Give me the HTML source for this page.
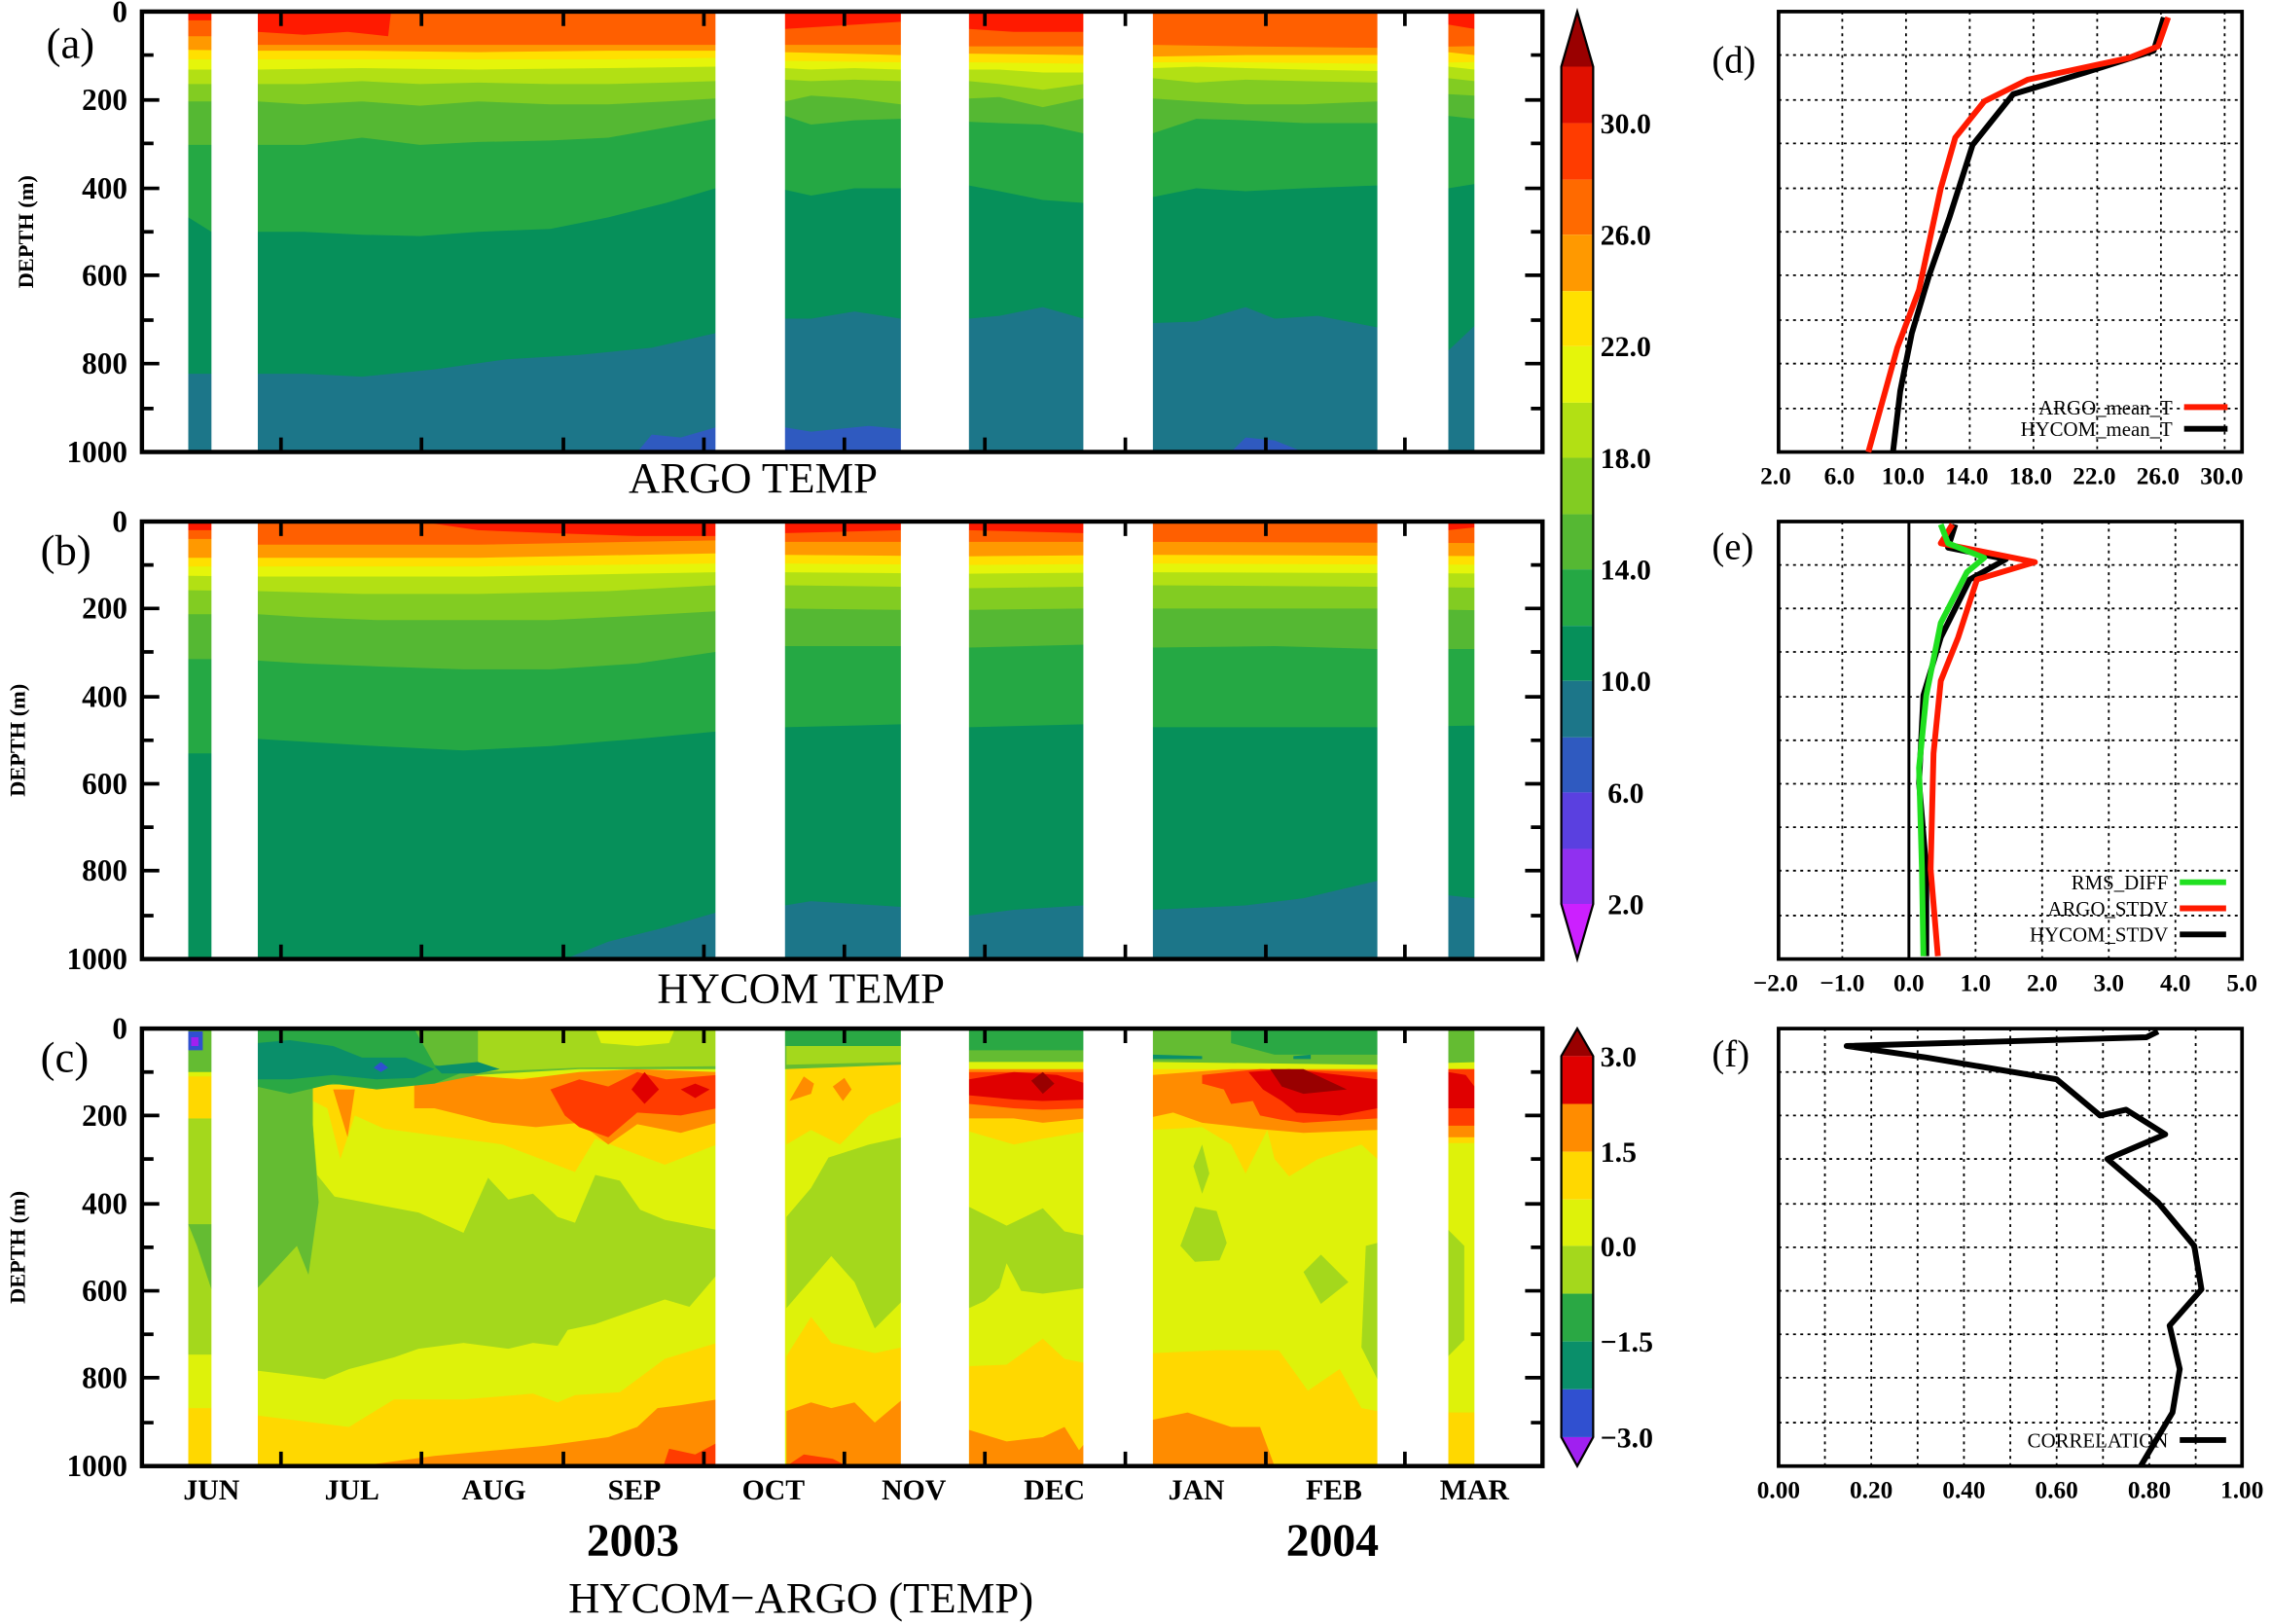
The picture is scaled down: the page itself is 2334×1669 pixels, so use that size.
<!DOCTYPE html>
<html><head><meta charset="utf-8"><style>html,body{margin:0;padding:0;background:#fff}svg{display:block}</style></head><body>
<svg width="2334" height="1669" viewBox="0 0 1568 1121" preserveAspectRatio="none" xmlns="http://www.w3.org/2000/svg" font-family="Liberation Serif, serif">
<defs>
<clipPath id="ca"><rect x="98" y="8" width="967" height="304"/></clipPath>
<clipPath id="cb"><rect x="98" y="360" width="967" height="302"/></clipPath>
<clipPath id="cc"><rect x="98" y="710" width="967" height="302"/></clipPath>
</defs>
<!-- Panel a -->
<g clip-path="url(#ca)">
<rect x="98" y="8" width="967" height="304" fill="#1c7689"/>
<polygon fill="#2f5ac0" points="98,312 440,312 450,300 470,302 494,295 542,295 560,298 600,294 622,296 660,312 850,312 860,302 880,304 900,312 1065,312"/>
<polygon fill="#1c7689" points="98,312 98,300 130,300 146,312 1065,312"/>
<polygon fill="#06905a" points="98,8 1065,8 1065,220 1018,225 1000,242 951,226 910,218 880,220 860,212 826,222 796,223 770,215 748,220 720,212 690,218 669,220 622,220 590,215 560,220 542,220 494,230 450,240 400,245 350,248 300,255 250,260 210,258 178,258 146,258 130,258 98,258"/>
<polygon fill="#25a844" points="98,8 1065,8 1065,125 1018,127 1000,130 951,128 900,130 860,132 826,130 796,136 760,135 748,140 720,138 690,132 669,128 622,130 590,130 560,135 542,131 494,130 460,140 420,150 380,158 330,160 290,163 250,162 210,160 178,160 146,160 130,150 98,150"/>
<polygon fill="#55b833" points="98,8 1065,8 1065,79 1018,82 1000,80 951,85 900,85 860,83 826,82 796,92 760,97 748,92 720,86 690,85 669,84 622,82 590,83 560,86 542,80 494,82 460,88 420,95 380,97 330,98 290,100 250,95 210,100 178,100 146,100 130,100 98,100"/>
<polygon fill="#82cc22" points="98,8 1065,8 1065,65 1018,66 1000,65 951,70 900,72 860,72 826,70 796,68 760,66 748,68 720,74 690,67 669,68 622,72 590,68 560,66 542,70 494,68 460,70 420,72 380,72 330,70 290,73 250,70 210,72 178,70 146,70 130,70 98,70"/>
<polygon fill="#b2e014" points="98,8 1065,8 1065,55 1018,56 1000,54 951,57 900,56 860,55 826,57 796,54 760,55 748,58 720,62 690,58 669,56 622,56 590,55 560,56 542,55 494,56 460,57 420,58 380,58 330,57 290,58 250,56 210,58 178,58 146,58 130,58 98,58"/>
<polygon fill="#e5f50a" points="98,8 1065,8 1065,47 1018,48 1000,46 951,49 900,48 860,47 826,46 796,47 760,48 748,50 720,50 690,48 669,48 622,48 590,47 560,48 542,47 494,46 420,47 330,48 250,47 178,48 98,48"/>
<polygon fill="#ffe000" points="98,8 1065,8 1065,42 951,44 860,43 796,43 748,44 669,43 622,43 542,42 494,40 420,41 330,41 250,41 178,41 98,41"/>
<polygon fill="#ff9900" points="98,8 1065,8 1065,37 1018,38 1000,36 951,38 900,38 860,38 796,39 760,37 748,38 669,37 622,38 542,36 494,35 420,35 330,36 250,35 178,35 98,34"/>
<polygon fill="#ff5f00" points="98,8 1065,8 1065,31 951,33 860,32 796,31 748,32 669,32 622,31 542,31 494,31 420,31 330,31 250,31 178,31 146,25 98,25"/>
<polygon fill="#ff1a00" points="130,8 146,8 146,14 130,14"/>
<polygon fill="#ff1a00" points="178,8 270,8 268,25 240,22 210,24 178,22"/>
<polygon fill="#ff1a00" points="542,8 622,8 622,15 542,20"/>
<polygon fill="#ff1a00" points="669,8 748,8 748,22 700,22 669,20"/>
<polygon fill="#ff1a00" points="1000,8 1018,8 1018,20 1000,17"/>
</g>
<!-- Panel b -->
<g clip-path="url(#cb)">
<rect x="98" y="360" width="967" height="302" fill="#1c7689"/>
<polygon fill="#06905a" points="98,360 1065,360 1065,620 1018,620 1000,618 951,608 900,620 860,625 796,628 748,625 700,628 669,632 622,626 560,622 542,625 494,630 460,640 420,650 390,662 98,662"/>
<polygon fill="#25a844" points="98,360 1065,360 1065,500 951,502 880,502 796,502 748,500 669,502 622,500 542,502 494,505 440,510 380,515 320,518 260,515 210,512 178,510 146,520 98,520"/>
<polygon fill="#55b833" points="98,360 1065,360 1065,448 951,448 880,446 796,447 748,445 669,447 622,446 542,446 494,450 440,458 380,462 320,462 260,460 210,458 178,456 146,455 98,455"/>
<polygon fill="#82cc22" points="98,360 1065,360 1065,422 951,420 880,420 796,420 748,420 669,421 622,421 542,420 494,422 440,425 380,428 320,428 260,428 210,426 178,424 98,424"/>
<polygon fill="#b2e014" points="98,360 1065,360 1065,406 951,405 796,404 748,405 669,406 622,405 542,404 494,404 420,408 330,410 250,410 178,408 98,407"/>
<polygon fill="#e5f50a" points="98,360 1065,360 1065,396 796,395 669,396 542,395 494,395 330,398 178,398 98,397"/>
<polygon fill="#ffe000" points="98,360 1065,360 1065,390 796,389 669,390 542,389 494,389 330,391 178,391 98,391"/>
<polygon fill="#ff9900" points="98,360 1065,360 1065,384 796,383 669,384 542,383 494,382 330,385 178,385 98,385"/>
<polygon fill="#ff5f00" points="98,360 1065,360 1065,375 796,374 669,374 542,374 494,373 330,376 178,376 146,372 98,372"/>
<polygon fill="#ff1a00" points="130,360 146,360 146,366 130,366"/>
<polygon fill="#ff1a00" points="290,360 494,360 494,370 440,370 380,368 330,366"/>
<polygon fill="#ff1a00" points="542,360 622,360 622,366 542,368"/>
<polygon fill="#ff1a00" points="669,360 748,360 748,368 669,366"/>
<polygon fill="#ff1a00" points="1000,360 1018,360 1018,364 1000,366"/>
</g>
<!-- Panel c -->
<g clip-path="url(#cc)">
<rect x="98" y="710" width="967" height="302" fill="#def20a"/>
<!-- light green -->
<polygon fill="#a4d81c" points="130,772 146,772 146,935 130,935"/>
<polygon fill="#64bc32" points="130,845 136,860 146,890 146,845"/>
<polygon fill="#a4d81c" points="177,760 216,777 219,811 231,826 289,837 320,851 337,813 351,828 368,824 385,840 397,844 411,811 428,815 442,835 459,842 495,849 495,880 476,902 459,897 411,914 392,918 385,929 368,927 351,931 320,927 289,931 272,937 241,945 224,952 209,950 177,946"/>
<polygon fill="#64bc32" points="177,745 216,745 216,776 220,830 213,880 205,860 177,890"/>
<polygon fill="#a4d81c" points="543,903 543,840 560,820 572,799 600,790 623,785 623,898 604,917 590,885 574,867"/>
<polygon fill="#a4d81c" points="669,833 695,846 720,834 735,850 750,853 750,889 720,893 705,891 695,872 690,889 680,898 669,903"/>
<polygon fill="#a4d81c" points="824,805 830,790 835,810 830,824"/>
<polygon fill="#a4d81c" points="815,860 825,833 840,836 847,858 842,870 825,871"/>
<polygon fill="#a4d81c" points="900,878 912,866 931,885 912,900"/>
<polygon fill="#a4d81c" points="943,860 951,858 951,952 940,930"/>
<polygon fill="#a4d81c" points="1000,849 1011,860 1011,925 1000,936"/>
<!-- bottom yellow / orange -->
<polygon fill="#ffd800" points="130,972 146,972 146,1012 130,1012"/>
<polygon fill="#ffd800" points="177,977 241,985 272,966 320,966 368,962 385,968 397,963 428,961 459,938 495,927 495,1012 177,1012"/>
<polygon fill="#ffd800" points="543,936 560,909 574,927 604,934 623,930 623,1012 543,1012"/>
<polygon fill="#ffd800" points="669,943 695,942 720,924 735,938 750,941 750,1012 669,1012"/>
<polygon fill="#ffd800" points="796,934 840,932 883,932 903,960 925,945 940,972 951,974 951,1012 796,1012"/>
<polygon fill="#ffd800" points="1000,975 1018,975 1018,1012 1000,1012"/>
<polygon fill="#ff8c00" points="248,1012 300,1005 376,998 420,992 440,985 454,972 470,970 495,966 495,1012"/>
<polygon fill="#ff8c00" points="543,974 560,968 574,972 590,968 604,982 623,966 623,1012 543,1012"/>
<polygon fill="#ff8c00" points="669,987 695,995 720,992 735,985 745,1001 750,995 750,1012 669,1012"/>
<polygon fill="#ff8c00" points="796,980 820,975 850,985 870,985 880,1012 796,1012"/>
<polygon fill="#ff3c00" points="458,1012 462,1000 480,1004 495,996 495,1012"/>
<polygon fill="#ff3c00" points="543,1012 555,1004 575,1007 585,1012"/>
<!-- top yellow -->
<polygon fill="#ffd800" points="130,743 146,743 146,772 130,772"/>
<polygon fill="#ffd800" points="216,748 495,740 495,790 459,804 411,786 397,809 347,790 265,779 245,770 235,800 226,765 216,760"/>
<polygon fill="#ffd800" points="543,732 623,732 623,760 600,770 580,790 560,780 543,790"/>
<polygon fill="#ffd800" points="669,738 750,738 750,781 720,786 700,790 669,781"/>
<polygon fill="#ffd800" points="796,738 951,738 951,800 940,790 910,800 890,812 880,800 875,780 860,810 850,790 830,778 796,780"/>
<polygon fill="#ffd800" points="1000,740 1018,740 1018,789 1000,789"/>
<!-- top orange -->
<polygon fill="#ff8c00" points="286,748 320,742 360,745 400,740 440,738 495,740 495,775 470,782 440,776 420,790 400,775 370,778 340,775 320,770 300,765 286,765"/>
<polygon fill="#ff8c00" points="230,752 245,752 240,785"/>
<polygon fill="#ff8c00" points="545,760 555,743 562,748 560,755"/>
<polygon fill="#ff8c00" points="575,750 583,744 588,752 582,760"/>
<polygon fill="#ff8c00" points="669,738 750,738 750,772 720,775 700,772 669,772"/>
<polygon fill="#ff8c00" points="796,742 850,738 951,738 951,780 900,782 866,779 830,775 810,768 796,771"/>
<polygon fill="#ff8c00" points="1000,738 1018,738 1018,785 1000,785"/>
<!-- red -->
<polygon fill="#ff3c00" points="380,752 400,745 420,750 440,740 460,745 495,742 495,765 470,770 440,768 420,785 400,778 390,770"/>
<polygon fill="#e00000" points="436,752 445,740 455,752 445,762"/>
<polygon fill="#e00000" points="470,752 480,748 490,752 480,758"/>
<polygon fill="#ff3c00" points="669,740 750,740 750,765 720,766 700,765 669,762"/>
<polygon fill="#e00000" points="669,745 700,740 730,742 750,748 750,759 720,760 700,759 669,756"/>
<polygon fill="#990000" points="712,746 720,740 728,748 720,755"/>
<polygon fill="#ff3c00" points="830,742 870,738 951,740 951,772 900,775 885,773 870,770 865,760 850,762 845,752 830,748"/>
<polygon fill="#e00000" points="862,740 890,738 951,745 951,765 925,770 895,768 885,760 872,752"/>
<polygon fill="#990000" points="877,738 900,738 930,752 900,755 885,750"/>
<polygon fill="#ff3c00" points="1000,738 1018,738 1018,777 1000,777"/>
<polygon fill="#e00000" points="1000,740 1012,742 1018,750 1018,765 1000,765"/>
<!-- top green -->
<polygon fill="#64bc32" points="98,710 1065,710 1065,732 951,735 796,733 750,733 669,733 622,735 542,738 495,738 400,738 330,742 300,748 260,748 178,750 146,740 98,740"/>
<polygon fill="#a4d81c" points="330,710 495,710 495,736 400,737 330,740"/>
<polygon fill="#def20a" points="411,710 466,710 462,720 440,722 415,720"/>
<polygon fill="#a4d81c" points="543,715 623,715 623,733 543,735"/>
<polygon fill="#2aa844" points="177,710 286,710 300,735 320,740 300,748 260,752 230,748 200,755 177,750"/>
<polygon fill="#2aa844" points="542,710 622,710 622,722 542,722"/>
<polygon fill="#2aa844" points="669,710 750,710 750,725 669,725"/>
<polygon fill="#2aa844" points="850,710 951,710 951,728 880,728 850,720"/>
<polygon fill="#0a8f6a" points="177,720 200,718 230,722 250,730 280,730 300,738 286,744 260,745 230,742 200,745 177,745"/>
<polygon fill="#0a8f6a" points="300,736 330,733 345,738 330,741 305,741"/>
<polygon fill="#0a8f6a" points="796,728 830,729 830,731 796,731"/>
<polygon fill="#0a8f6a" points="893,729 905,728 905,731 893,731"/>
<polygon fill="#3050d0" points="130,712 140,712 140,725 130,725"/>
<polygon fill="#a020f0" points="132,716 137,716 137,722 132,722"/>
<polygon fill="#3050d0" points="258,737 263,733 268,737 263,740"/>
</g>
<!-- gaps -->
<g fill="#fff">
<rect x="99" y="8" width="31" height="1004"/><rect x="146" y="8" width="32" height="1004"/>
<rect x="494" y="8" width="48" height="1004"/><rect x="622" y="8" width="47" height="1004"/>
<rect x="748" y="8" width="48" height="1004"/><rect x="951" y="8" width="49" height="1004"/>
<rect x="1018" y="8" width="46" height="1004"/>
<rect x="98" y="313" width="968" height="46"/><rect x="98" y="663" width="968" height="46"/>
</g>
<!-- frames & ticks -->
<g fill="none" stroke="#000" stroke-width="3">
<rect x="98" y="8" width="967" height="304"/>
<rect x="98" y="360" width="967" height="302"/>
<rect x="98" y="710" width="967" height="302"/>
</g>
<g stroke="#000" stroke-width="2.5">
<path d="M98,38h8M98,69h12M98,99h8M98,130h12M98,160h8M98,190h12M98,221h8M98,251h12M98,282h8 M1065,38h-8M1065,69h-12M1065,99h-8M1065,130h-12M1065,160h-8M1065,190h-12M1065,221h-8M1065,251h-12M1065,282h-8"/>
<path d="M98,390h8M98,420h12M98,450h8M98,481h12M98,511h8M98,541h12M98,571h8M98,601h12M98,632h8 M1065,390h-8M1065,420h-12M1065,450h-8M1065,481h-12M1065,511h-8M1065,541h-12M1065,571h-8M1065,601h-12M1065,632h-8"/>
<path d="M98,740h8M98,770h12M98,800h8M98,831h12M98,861h8M98,891h12M98,921h8M98,951h12M98,982h8 M1065,740h-8M1065,770h-12M1065,800h-8M1065,831h-12M1065,861h-8M1065,891h-12M1065,921h-8M1065,951h-12M1065,982h-8"/>
<path d="M194,8v10M291,8v10M389,8v10M486,8v10M583,8v10M680,8v10M777,8v10M874,8v10M970,8v10 M194,312v-10M291,312v-10M389,312v-10M486,312v-10M583,312v-10M680,312v-10M777,312v-10M874,312v-10M970,312v-10"/>
<path d="M194,360v10M291,360v10M389,360v10M486,360v10M583,360v10M680,360v10M777,360v10M874,360v10M970,360v10 M194,662v-10M291,662v-10M389,662v-10M486,662v-10M583,662v-10M680,662v-10M777,662v-10M874,662v-10M970,662v-10"/>
<path d="M194,710v10M291,710v10M389,710v10M486,710v10M583,710v10M680,710v10M777,710v10M874,710v10M970,710v10 M194,1012v-10M291,1012v-10M389,1012v-10M486,1012v-10M583,1012v-10M680,1012v-10M777,1012v-10M874,1012v-10M970,1012v-10"/>
</g>
<!-- y labels -->
<g font-weight="bold" font-size="21" text-anchor="end">
<text x="88" y="15">0</text><text x="88" y="76">200</text><text x="88" y="137">400</text><text x="88" y="197">600</text><text x="88" y="258">800</text><text x="88" y="319">1000</text>
<text x="88" y="367">0</text><text x="88" y="427">200</text><text x="88" y="488">400</text><text x="88" y="548">600</text><text x="88" y="608">800</text><text x="88" y="669">1000</text>
<text x="88" y="717">0</text><text x="88" y="777">200</text><text x="88" y="838">400</text><text x="88" y="898">600</text><text x="88" y="958">800</text><text x="88" y="1019">1000</text>
</g>
<g font-weight="bold" font-size="15" text-anchor="middle">
<text transform="translate(23,160) rotate(-90)">DEPTH (m)</text>
<text transform="translate(17,511) rotate(-90)">DEPTH (m)</text>
<text transform="translate(17,861) rotate(-90)">DEPTH (m)</text>
</g>
<g font-size="30"><text x="32" y="40">(a)</text><text x="28" y="390">(b)</text><text x="28" y="740">(c)</text></g>
<g font-size="30" text-anchor="middle"><text x="520" y="340">ARGO  TEMP</text><text x="553" y="692">HYCOM  TEMP</text><text x="553" y="1113">HYCOM−ARGO (TEMP)</text></g>
<g font-weight="bold" font-size="20" text-anchor="middle">
<text x="146" y="1035">JUN</text><text x="243" y="1035">JUL</text><text x="341" y="1035">AUG</text><text x="438" y="1035">SEP</text><text x="534" y="1035">OCT</text><text x="631" y="1035">NOV</text><text x="728" y="1035">DEC</text><text x="826" y="1035">JAN</text><text x="921" y="1035">FEB</text><text x="1018" y="1035">MAR</text>
</g>
<g font-weight="bold" font-size="32" text-anchor="middle"><text x="437" y="1074">2003</text><text x="920" y="1074">2004</text></g>
<!-- colorbar 1 -->
<g stroke="none">
<polygon points="1078,46 1089,8 1100,46" fill="#9a0000"/>
<rect x="1078" y="46" width="22" height="39" fill="#e01000"/>
<rect x="1078" y="85" width="22" height="39" fill="#ff3c00"/>
<rect x="1078" y="124" width="22" height="38" fill="#ff6a00"/>
<rect x="1078" y="162" width="22" height="39" fill="#ff9900"/>
<rect x="1078" y="201" width="22" height="38" fill="#ffe000"/>
<rect x="1078" y="239" width="22" height="39" fill="#e5f50a"/>
<rect x="1078" y="278" width="22" height="38" fill="#b2e014"/>
<rect x="1078" y="316" width="22" height="39" fill="#82cc22"/>
<rect x="1078" y="355" width="22" height="38" fill="#55b833"/>
<rect x="1078" y="393" width="22" height="39" fill="#25a844"/>
<rect x="1078" y="432" width="22" height="38" fill="#06905a"/>
<rect x="1078" y="470" width="22" height="39" fill="#1c7689"/>
<rect x="1078" y="509" width="22" height="38" fill="#2f5ac0"/>
<rect x="1078" y="547" width="22" height="39" fill="#5a40e0"/>
<rect x="1078" y="586" width="22" height="38" fill="#9030f0"/>
<polygon points="1078,624 1089,662 1100,624" fill="#cc20ff"/>
</g>
<path d="M1078,46 L1089,8 L1100,46 V624 L1089,662 L1078,624 Z" fill="none" stroke="#000" stroke-width="1.5"/>
<g font-weight="bold" font-size="20"><text x="1105" y="92">30.0</text><text x="1105" y="169">26.0</text><text x="1105" y="246">22.0</text><text x="1105" y="323">18.0</text><text x="1105" y="400">14.0</text><text x="1105" y="477">10.0</text><text x="1110" y="554">6.0</text><text x="1110" y="631">2.0</text></g>
<!-- colorbar 2 -->
<g>
<polygon points="1078,729 1089,710 1100,729" fill="#990000"/>
<rect x="1078" y="729" width="22" height="33" fill="#e00000"/>
<rect x="1078" y="762" width="22" height="33" fill="#ff8c00"/>
<rect x="1078" y="795" width="22" height="33" fill="#ffd800"/>
<rect x="1078" y="828" width="22" height="32" fill="#def20a"/>
<rect x="1078" y="860" width="22" height="33" fill="#a4d81c"/>
<rect x="1078" y="893" width="22" height="33" fill="#2aa844"/>
<rect x="1078" y="926" width="22" height="33" fill="#0a8f6a"/>
<rect x="1078" y="959" width="22" height="33" fill="#3050d0"/>
<polygon points="1078,992 1089,1012 1100,992" fill="#a020f0"/>
</g>
<path d="M1078,729 L1089,710 L1100,729 V992 L1089,1012 L1078,992 Z" fill="none" stroke="#000" stroke-width="1.5"/>
<g font-weight="bold" font-size="20"><text x="1105" y="736">3.0</text><text x="1105" y="802">1.5</text><text x="1105" y="867">0.0</text><text x="1105" y="933">−1.5</text><text x="1105" y="999">−3.0</text></g>
<!-- right panels grids -->
<g stroke="#000" stroke-width="1.2" stroke-dasharray="2,3">
<path d="M1272,8V312M1316,8V312M1360,8V312M1404,8V312M1448,8V312M1492,8V312M1536,8V312 M1228,38H1548M1228,69H1548M1228,99H1548M1228,130H1548M1228,160H1548M1228,190H1548M1228,221H1548M1228,251H1548M1228,282H1548"/>
<path d="M1272,360V662M1364,360V662M1410,360V662M1456,360V662M1502,360V662 M1228,390H1548M1228,420H1548M1228,450H1548M1228,481H1548M1228,511H1548M1228,541H1548M1228,571H1548M1228,601H1548M1228,632H1548"/>
<path d="M1260,710V1012M1292,710V1012M1324,710V1012M1356,710V1012M1388,710V1012M1420,710V1012M1452,710V1012M1484,710V1012M1516,710V1012 M1228,740H1548M1228,770H1548M1228,800H1548M1228,831H1548M1228,861H1548M1228,891H1548M1228,921H1548M1228,951H1548M1228,982H1548"/>
</g>
<g fill="none" stroke="#000" stroke-width="2.5">
<rect x="1228" y="8" width="320" height="304"/><rect x="1228" y="360" width="320" height="302"/><rect x="1228" y="710" width="320" height="302"/>
<path d="M1318,360V662" stroke-width="2"/>
</g>
<g fill="none" stroke-width="4" stroke-linejoin="round">
<polyline stroke="#000" points="1494,12 1487,35 1440,50 1390,65 1362,100 1346,150 1332,190 1320,230 1312,270 1307,312"/>
<polyline stroke="#ff1a00" points="1497,12 1490,32 1470,40 1400,55 1370,70 1350,95 1340,130 1325,200 1310,240 1290,312"/>
<polyline stroke="#000" points="1350,362 1345,378 1385,386 1360,400 1340,440 1328,480 1325,540 1330,600 1330,660"/>
<polyline stroke="#ff1a00" points="1348,362 1340,375 1405,388 1365,400 1352,440 1340,470 1335,520 1333,600 1338,660"/>
<polyline stroke="#20e020" points="1340,362 1345,375 1370,385 1358,395 1340,430 1330,480 1325,530 1327,600 1328,660"/>
<polyline stroke="#000" points="1490,712 1482,716 1275,722 1330,730 1420,745 1450,770 1468,766 1495,783 1455,800 1490,830 1515,860 1520,890 1498,915 1505,945 1500,975 1478,1012"/>
</g>
<g stroke-width="4"><path d="M1508,281h30" stroke="#ff1a00"/><path d="M1508,296h30" stroke="#000"/>
<path d="M1505,609h32" stroke="#20e020"/><path d="M1505,627h32" stroke="#ff1a00"/><path d="M1505,645h32" stroke="#000"/><path d="M1505,994h32" stroke="#000"/></g>
<g font-size="14" text-anchor="end"><text x="1500" y="286">ARGO_mean_T</text><text x="1500" y="301">HYCOM_mean_T</text>
<text x="1497" y="614">RMS_DIFF</text><text x="1497" y="632">ARGO_STDV</text><text x="1497" y="650">HYCOM_STDV</text><text x="1497" y="999">CORRELATION</text></g>
<g font-size="26"><text x="1182" y="50">(d)</text><text x="1182" y="386">(e)</text><text x="1182" y="736">(f)</text></g>
<g font-weight="bold" font-size="17" text-anchor="middle">
<text x="1226" y="334">2.0</text><text x="1270" y="334">6.0</text><text x="1314" y="334">10.0</text><text x="1358" y="334">14.0</text><text x="1402" y="334">18.0</text><text x="1446" y="334">22.0</text><text x="1490" y="334">26.0</text><text x="1534" y="334">30.0</text>
<text x="1226" y="684">−2.0</text><text x="1272" y="684">−1.0</text><text x="1318" y="684">0.0</text><text x="1364" y="684">1.0</text><text x="1410" y="684">2.0</text><text x="1456" y="684">3.0</text><text x="1502" y="684">4.0</text><text x="1548" y="684">5.0</text>
<text x="1228" y="1034">0.00</text><text x="1292" y="1034">0.20</text><text x="1356" y="1034">0.40</text><text x="1420" y="1034">0.60</text><text x="1484" y="1034">0.80</text><text x="1548" y="1034">1.00</text>
</g>
</svg>
</body></html>
